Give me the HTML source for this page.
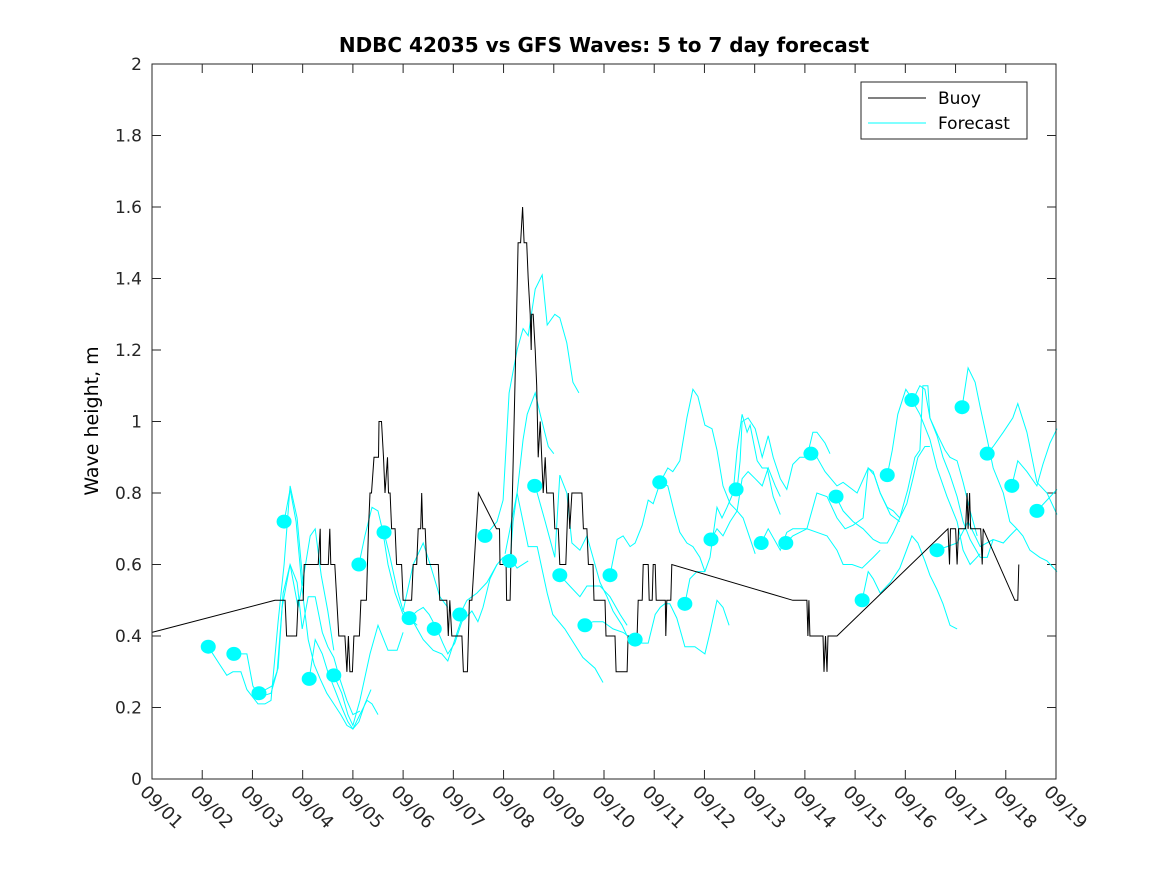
<!DOCTYPE html>
<html><head><meta charset="utf-8"><style>
html,body{margin:0;padding:0;background:#fff;}
svg{display:block;font-family:"DejaVu Sans","Liberation Sans",sans-serif;}
</style></head><body>
<svg id="chart" width="1167" height="875" viewBox="0 0 1167 875" xmlns="http://www.w3.org/2000/svg">
<rect width="1167" height="875" fill="#fff"/>
<text x="604" y="52" text-anchor="middle" font-size="20" font-weight="bold">NDBC 42035 vs GFS Waves: 5 to 7 day forecast</text>
<text transform="translate(98,421) rotate(-90)" text-anchor="middle" font-size="19">Wave height, m</text>
<g id="axes"></g>
<g id="series"></g>
<rect x="152" y="64" width="904" height="715" fill="none" stroke="#262626" stroke-width="1"/>
<g>
<rect x="861" y="82" width="166" height="57" fill="#fff" stroke="#262626"/>
<line x1="868" y1="98" x2="926" y2="98" stroke="#000"/>
<text x="938" y="104" font-size="17">Buoy</text>
<line x1="868" y1="123" x2="926" y2="123" stroke="#00ffff"/>
<text x="938" y="129" font-size="17">Forecast</text>
</g>
</svg>
<script>
const xTickLabels = ["09/01","09/02","09/03","09/04","09/05","09/06","09/07","09/08","09/09","09/10","09/11","09/12","09/13","09/14","09/15","09/16","09/17","09/18","09/19"];
const yTicks = [0,0.2,0.4,0.6,0.8,1,1.2,1.4,1.6,1.8,2];
const yTickLabels = ["0","0.2","0.4","0.6","0.8","1","1.2","1.4","1.6","1.8","2"];
const buoyDays = [0,2.45,2.65,2.68,2.88,2.91,3.01,3.03,3.31,3.35,3.36,3.51,3.54,3.56,3.64,3.68,3.72,3.84,3.88,3.91,3.94,3.99,4.02,4.13,4.16,4.27,4.31,4.34,4.37,4.42,4.51,4.52,4.57,4.61,4.64,4.69,4.71,4.74,4.77,4.84,4.87,4.97,5.00,5.17,5.20,5.27,5.30,5.35,5.37,5.39,5.44,5.47,5.70,5.73,5.87,5.90,5.93,5.97,6.17,6.20,6.28,6.32,6.37,6.50,6.86,6.92,6.93,7.05,7.06,7.13,7.16,7.26,7.29,7.34,7.38,7.41,7.46,7.49,7.53,7.55,7.56,7.59,7.63,7.66,7.69,7.73,7.76,7.79,7.83,7.86,7.99,8.02,8.09,8.12,8.24,8.29,8.32,8.36,8.56,8.59,8.66,8.69,8.78,8.80,9.02,9.04,9.22,9.24,9.46,9.48,9.66,9.68,9.76,9.78,9.88,9.90,9.96,9.98,10.02,10.04,10.22,10.23,10.25,10.33,10.35,12.76,13.04,13.06,13.08,13.10,13.36,13.38,13.41,13.44,13.46,13.64,15.85,15.88,15.90,16.0,16.03,16.06,16.20,16.23,16.25,16.28,16.30,16.50,16.53,16.55,17.18,17.24,17.26];
const buoyValues = [0.41,0.5,0.5,0.4,0.4,0.5,0.5,0.6,0.6,0.7,0.6,0.6,0.7,0.6,0.6,0.5,0.4,0.4,0.3,0.4,0.3,0.3,0.4,0.4,0.5,0.5,0.7,0.8,0.8,0.9,0.9,1.0,1.0,0.9,0.8,0.9,0.8,0.8,0.7,0.7,0.6,0.6,0.5,0.5,0.6,0.6,0.7,0.7,0.8,0.7,0.7,0.6,0.6,0.5,0.5,0.4,0.5,0.4,0.4,0.3,0.3,0.5,0.5,0.8,0.7,0.7,0.6,0.6,0.5,0.5,0.7,1.3,1.5,1.5,1.6,1.5,1.5,1.4,1.3,1.2,1.3,1.3,1.2,1.1,0.9,1.0,0.9,0.8,0.9,0.8,0.8,0.7,0.7,0.6,0.6,0.8,0.7,0.8,0.8,0.7,0.7,0.6,0.6,0.5,0.5,0.4,0.4,0.3,0.3,0.4,0.4,0.5,0.5,0.6,0.6,0.5,0.5,0.6,0.6,0.5,0.5,0.4,0.5,0.5,0.6,0.5,0.5,0.4,0.5,0.4,0.4,0.3,0.4,0.3,0.4,0.4,0.7,0.6,0.7,0.7,0.6,0.7,0.7,0.8,0.7,0.8,0.7,0.7,0.6,0.7,0.5,0.5,0.6];
const dotDays = [1.12,1.63,2.13,2.63,3.13,3.62,4.12,4.62,5.12,5.62,6.13,6.63,7.12,7.62,8.12,8.62,9.12,9.62,10.11,10.61,11.13,11.63,12.13,12.62,13.12,13.62,14.14,14.64,15.13,15.63,16.13,16.63,17.12,17.62];
const dotValues = [0.37,0.35,0.24,0.72,0.28,0.29,0.60,0.69,0.45,0.42,0.46,0.68,0.61,0.82,0.57,0.43,0.57,0.39,0.83,0.49,0.67,0.81,0.66,0.66,0.91,0.79,0.50,0.85,1.06,0.64,1.04,0.91,0.82,0.75];
const fcDays = [
[1.12,1.35,1.49,1.61,1.77,1.89,2.11,2.25,2.37,2.51,2.63,2.75,2.89,3.01],
[1.63,1.89,2.01,2.15,2.37,2.49,2.59,2.75,2.89,2.99,3.11,3.25,3.39,3.50,3.62,3.74,3.88,4.00,4.14],
[2.13,2.39,2.51,2.61,2.75,2.91,3.01,3.15,3.25,3.37,3.50,3.62],
[2.63,2.75,2.87,2.99,3.11,3.23,3.35,3.48,3.62,3.76,3.88,4.00,4.12,4.24,4.36],
[3.13,3.25,3.39,3.50,3.64,3.78,3.90,4.00,4.14,4.28,4.38,4.50],
[3.62,3.78,3.90,4.00,4.14,4.34,4.50,4.70,4.88,5.00],
[4.12,4.24,4.38,4.50,4.60,4.70,4.84,5.00,5.14,5.28],
[4.62,4.74,4.88,5.00,5.20,5.40,5.60,5.77,5.89,6.03,6.17],
[5.12,5.28,5.40,5.52,5.67,5.79,5.89,6.03,6.17,6.37,6.49,6.59,6.73,6.87],
[5.00,5.20,5.40,5.54,5.73,5.89],
[6.13,6.27,6.47,6.67,6.87,6.99,7.13,7.27,7.49],
[6.63,6.87,6.99,7.11,7.27,7.39,7.49,7.63,7.77,7.87,8.02,8.12,8.26,8.38,8.50],
[7.13,7.19,7.27,7.39,7.47,7.63,7.73,7.89,8.0],
[7.03,7.27,7.49,7.67,7.87,7.98,8.22,8.58,8.82,8.98],
[7.63,7.83,8.02,8.12,8.26,8.36,8.52,8.66,8.78,8.92,9.06,9.18,9.36,9.46],
[8.12,8.32,8.52,8.66,8.92,9.12,9.32,9.46],
[8.62,8.78,8.98,9.18,9.38,9.48],
[9.12,9.26,9.38,9.52,9.62,9.76,9.88,9.98,10.12,10.27,10.37,10.51,10.65,10.77,10.87,11.01,11.15,11.25,11.37,11.51,11.65,11.77,12.01],
[9.62,9.76,9.88,10.02,10.12,10.21,10.31,10.45,10.61,10.81,11.01,11.11,11.25,11.37,11.49],
[10.12,10.27,10.41,10.51,10.65,10.77,10.91,11.01],
[10.61,10.71,10.85,11.01,11.11,11.25,11.35,11.45,11.57,11.65,11.75,11.85,11.91,12.05,12.15,12.25,12.37,12.51],
[11.13,11.25,11.37,11.51,11.65,11.75,11.87,12.01,12.15,12.27,12.41,12.51],
[11.65,11.71,11.75,11.87,12.01,12.15,12.27,12.37,12.51,12.64,12.76,12.90,13.04,13.16,13.24,13.40,13.50],
[12.13,12.27,12.51,12.64,12.76,12.90,13.04,13.24,13.44,13.64,13.76,13.94,14.14,14.36,14.50],
[12.62,12.76,13.04,13.24,13.44,13.64,13.80,13.96,14.16,14.26,14.38,14.50,14.64,14.76,14.89,15.03,15.15,15.25,15.39,15.49],
[13.12,13.24,13.40,13.64,13.76,14.04,14.26,14.36,14.50,14.70,14.89],
[13.62,13.76,13.96,14.16,14.36,14.50,14.64,14.76,14.89,15.05,15.19,15.29,15.35,15.45,15.49,15.65,15.79,15.89,16.03,16.15,16.29,16.43],
[14.14,14.26,14.36,14.50,14.70,14.89,15.13,15.25,15.39,15.49,15.63,15.75,15.89,16.03],
[14.64,14.74,14.85,15.01,15.15,15.29,15.39,15.49,15.63,15.75,15.89,16.03,16.15,16.29,16.49,16.63,16.75,16.95,17.08,17.22,17.34,17.48,17.68,17.82,18.02],
[15.13,15.29,15.49,15.63,15.83,16.03,16.15,16.29,16.49],
[15.63,15.83,16.03,16.25,16.49,16.75],
[16.13,16.25,16.39,16.49,16.63,16.75,16.95,17.08,17.22],
[16.63,16.75,16.95,17.14,17.24,17.42,17.62,17.82,18.02],
[17.12,17.24,17.42,17.62,17.74,17.88,18.02],
[17.62,17.82,18.02]
];
const fcValues = [
[0.37,0.32,0.29,0.30,0.30,0.25,0.21,0.21,0.22,0.44,0.60,0.82,0.73,0.54],
[0.35,0.35,0.26,0.23,0.24,0.30,0.48,0.60,0.55,0.42,0.51,0.51,0.41,0.37,0.34,0.28,0.22,0.18,0.19],
[0.24,0.26,0.31,0.52,0.60,0.48,0.56,0.68,0.70,0.57,0.47,0.36],
[0.72,0.81,0.72,0.53,0.39,0.32,0.28,0.24,0.21,0.18,0.15,0.14,0.16,0.21,0.25],
[0.28,0.39,0.35,0.30,0.25,0.20,0.16,0.14,0.18,0.22,0.21,0.18],
[0.29,0.24,0.18,0.15,0.22,0.35,0.43,0.36,0.36,0.41],
[0.60,0.68,0.76,0.75,0.69,0.60,0.52,0.46,0.45,0.43],
[0.69,0.62,0.53,0.47,0.44,0.39,0.36,0.35,0.33,0.39,0.45],
[0.45,0.47,0.48,0.46,0.42,0.38,0.35,0.38,0.44,0.47,0.44,0.48,0.56,0.60],
[0.47,0.60,0.66,0.60,0.51,0.48],
[0.46,0.50,0.52,0.55,0.60,0.62,0.62,0.59,0.61],
[0.68,0.72,0.78,1.08,1.20,1.26,1.24,1.37,1.41,1.27,1.30,1.29,1.22,1.11,1.08],
[0.61,0.72,0.80,0.95,1.02,1.08,1.02,0.93,0.91],
[0.63,0.80,0.65,0.65,0.52,0.46,0.42,0.34,0.31,0.27],
[0.82,0.72,0.62,0.85,0.80,0.66,0.64,0.68,0.62,0.55,0.51,0.47,0.43,0.40],
[0.57,0.54,0.51,0.54,0.54,0.51,0.46,0.43],
[0.43,0.44,0.44,0.42,0.41,0.40],
[0.57,0.67,0.68,0.65,0.66,0.71,0.78,0.77,0.83,0.87,0.86,0.89,1.01,1.09,1.07,0.99,0.98,0.92,0.82,0.77,0.75,0.73,0.63],
[0.39,0.38,0.38,0.46,0.48,0.49,0.49,0.45,0.37,0.37,0.35,0.41,0.50,0.48,0.43],
[0.83,0.82,0.74,0.69,0.66,0.65,0.62,0.58],
[0.49,0.56,0.58,0.58,0.62,0.76,0.73,0.76,0.80,0.92,1.02,0.97,0.99,0.89,0.87,0.87,0.79,0.74],
[0.67,0.70,0.68,0.72,0.75,0.84,0.86,0.84,0.82,0.87,0.82,0.79],
[0.81,0.89,1.00,1.01,0.98,0.90,0.96,0.90,0.84,0.81,0.88,0.90,0.90,0.97,0.97,0.94,0.91],
[0.66,0.70,0.64,0.69,0.70,0.70,0.70,0.69,0.68,0.64,0.60,0.60,0.59,0.62,0.64],
[0.66,0.68,0.70,0.80,0.79,0.73,0.70,0.71,0.73,0.87,0.85,0.80,0.76,0.75,0.73,0.77,0.84,0.90,0.93,0.93],
[0.91,0.90,0.86,0.82,0.83,0.80,0.87,0.86,0.80,0.74,0.72],
[0.79,0.75,0.72,0.70,0.67,0.66,0.66,0.69,0.73,0.81,0.90,0.92,1.10,1.10,1.01,0.96,0.92,0.90,0.89,0.83,0.75,0.68],
[0.50,0.58,0.56,0.52,0.55,0.59,0.68,0.66,0.61,0.57,0.53,0.49,0.43,0.42],
[0.85,0.92,1.02,1.09,1.06,1.10,1.09,1.01,0.96,0.90,0.85,0.79,0.72,0.67,0.62,0.62,0.67,0.66,0.68,0.70,0.68,0.64,0.62,0.61,0.58],
[1.06,1.02,0.95,0.87,0.79,0.72,0.64,0.60,0.63],
[0.64,0.65,0.66,0.72,0.65,0.67],
[1.04,1.15,1.11,1.04,0.95,0.87,0.80,0.72,0.70],
[0.91,0.93,0.97,1.01,1.05,0.97,0.83,0.80,0.74],
[0.82,0.89,0.86,0.82,0.88,0.94,0.98],
[0.75,0.78,0.81]
];

const X0=152,X1=1056,Y0=779,Y1=64,DAYS=18,YMAX=2;
function xs(d){return X0+(X1-X0)*d/DAYS;}
function ys(v){return Y0-(Y0-Y1)*v/YMAX;}
const NS="http://www.w3.org/2000/svg";
const axes=document.getElementById('axes');
const series=document.getElementById('series');
function mk(tag,attrs,parent){const e=document.createElementNS(NS,tag);for(const k in attrs)e.setAttribute(k,attrs[k]);parent.appendChild(e);return e;}

yTicks.forEach((v,i)=>{
  const y=ys(v);
  const t1=mk('line',{x1:X0,y1:y,x2:X0+9,y2:y,stroke:'#262626'},axes);
  
  
  const t2=mk('line',{x1:X1,y1:y,x2:X1-9,y2:y,stroke:'#262626'},axes);
  
  
  const lb=mk('text',{x:X0-10,y:y+6,'text-anchor':'end','font-size':17,fill:'#262626'},axes);
  lb.textContent=yTickLabels[i];
  
  
});
xTickLabels.forEach((s,i)=>{
  const x=xs(i);
  const t1=mk('line',{x1:x,y1:Y0,x2:x,y2:Y0-9,stroke:'#262626'},axes);
  
  
  const t2=mk('line',{x1:x,y1:Y1,x2:x,y2:Y1+9,stroke:'#262626'},axes);
  
  
  const lb=mk('text',{transform:`translate(${x-13},${Y0+14}) rotate(45)`,'font-size':18,fill:'#262626'},axes);
  lb.textContent=s;
  
  
});

fcDays.forEach((ds,k)=>{
  const pts=ds.map((d,j)=>xs(d).toFixed(1)+','+ys(fcValues[k][j]).toFixed(1)).join(' ');
  const pl=mk('polyline',{points:pts,fill:'none',stroke:'#00ffff','stroke-width':1},series);
  
  
});
const bpts=buoyDays.map((d,j)=>xs(d).toFixed(1)+','+ys(buoyValues[j]).toFixed(1)).join(' ');
const bl=mk('polyline',{points:bpts,fill:'none',stroke:'#000','stroke-width':1},series);


dotDays.forEach((d,j)=>{
  const c=mk('ellipse',{cx:xs(d),cy:ys(dotValues[j]),rx:7.5,ry:7,fill:'#00ffff'},series);
  
  
});
</script>
</body></html>
